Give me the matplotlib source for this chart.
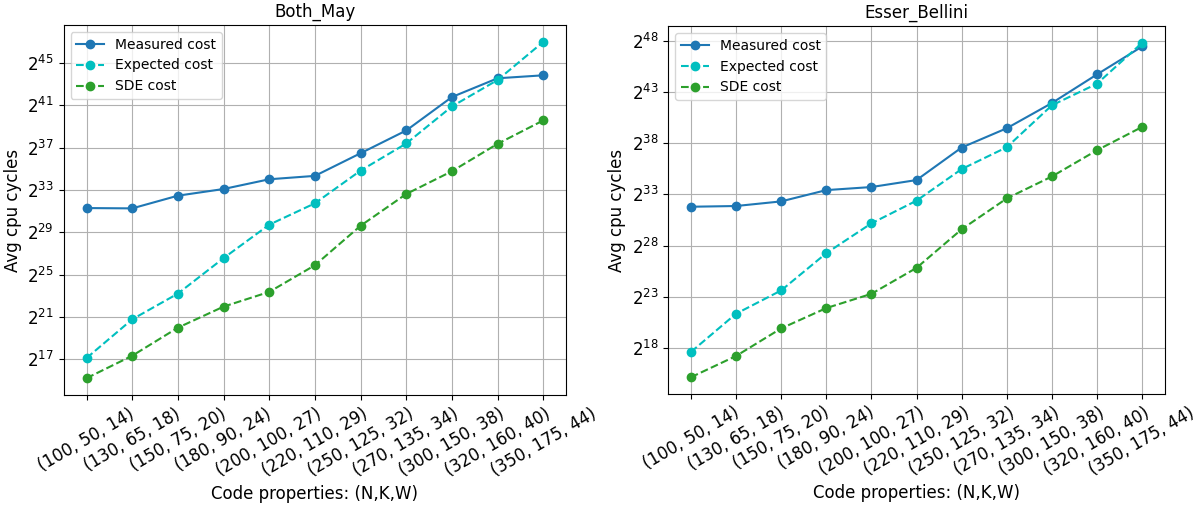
import matplotlib
matplotlib.use("Agg")
import numpy as np
import matplotlib.pyplot as plt
from matplotlib.ticker import NullLocator

# ---------------------------------------------------------------------------
# Data (log2 of average cpu cycles)
# ---------------------------------------------------------------------------
code_props = ["(100, 50, 14)", "(130, 65, 18)", "(150, 75, 20)", "(180, 90, 24)",
              "(200, 100, 27)", "(220, 110, 29)", "(250, 125, 32)", "(270, 135, 34)",
              "(300, 150, 38)", "(320, 160, 40)", "(350, 175, 44)"]

both_may_measured = [31.30, 31.27, 32.47, 33.10, 34.02, 34.34, 36.48, 38.63, 41.79, 43.56, 43.84]
both_may_expected = [17.13, 20.79, 23.22, 26.57, 29.73, 31.75, 34.84, 37.40, 40.90, 43.40, 47.00]
both_may_sde      = [15.23, 17.35, 20.00, 21.99, 23.38, 25.90, 29.63, 32.63, 34.78, 37.37, 39.58]

esser_measured = [31.80, 31.87, 32.32, 33.42, 33.72, 34.40, 37.57, 39.45, 41.91, 44.70, 47.42]
esser_expected = [17.64, 21.37, 23.64, 27.27, 30.18, 32.39, 35.47, 37.60, 41.69, 43.79, 47.78]
esser_sde      = [15.18, 17.25, 19.94, 21.92, 23.31, 25.84, 29.60, 32.61, 34.75, 37.31, 39.58]

# y tick exponents shown on each panel
both_may_yexp = [17, 21, 25, 29, 33, 37, 41, 45]
esser_yexp    = [18, 23, 28, 33, 38, 43, 48]

panels = [
    ("Both_May", both_may_measured, both_may_expected, both_may_sde, both_may_yexp),
    ("Esser_Bellini", esser_measured, esser_expected, esser_sde, esser_yexp),
]

# ---------------------------------------------------------------------------
# Plot
# ---------------------------------------------------------------------------
fig = plt.figure(figsize=(12.02, 5.11), dpi=100)
positions = [[0.053, 0.227, 0.418, 0.724], [0.556, 0.229, 0.413, 0.720]]

x = np.arange(len(code_props))
for pos, (title, meas, exp_, sde, yexp) in zip(positions, panels):
    ax = fig.add_axes(pos)
    ax.plot(x, 2.0 ** np.array(meas), "o-", color="#1f77b4", label="Measured cost")
    ax.plot(x, 2.0 ** np.array(exp_), "o--", color="c", label="Expected cost")
    ax.plot(x, 2.0 ** np.array(sde), "o--", color="#2ca02c", label="SDE cost")
    ax.set_yscale("log", base=2)
    ax.set_yticks(2.0 ** np.array(yexp))
    ax.yaxis.set_minor_locator(NullLocator())
    ax.set_xticks(x)
    ax.set_xticklabels(code_props, rotation=30, fontsize=12)
    ax.tick_params(axis="y", labelsize=12)
    ax.set_xlabel("Code properties: (N,K,W)", fontsize=12)
    ax.set_ylabel("Avg cpu cycles", fontsize=12)
    ax.set_title(title, fontsize=12)
    ax.grid(True)
    ax.legend(loc="upper left", fontsize=10)

plt.savefig("out.png", dpi=100)
